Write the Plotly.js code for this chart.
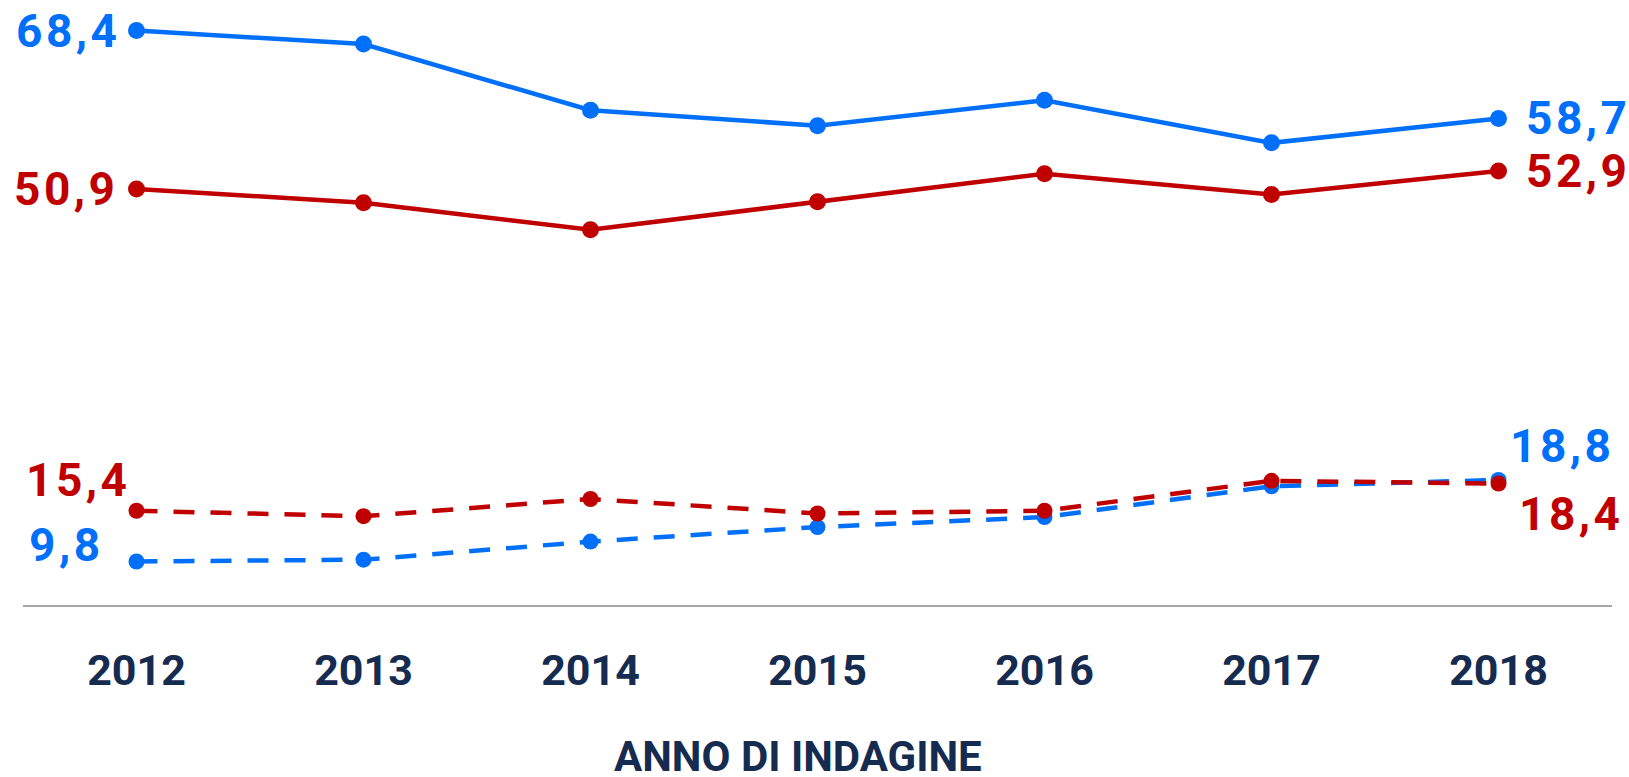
<!DOCTYPE html>
<html>
<head>
<meta charset="utf-8">
<script src="https://cdn.plot.ly/plotly-3.0.1.min.js"></script>
<style>
  html, body { margin: 0; padding: 0; background: #ffffff; }
  #chart { width: 1629px; height: 777px; }
</style>
</head>
<body>
<div id="chart"></div>
<script>
// ---- data ----
const years = [2012, 2013, 2014, 2015, 2016, 2017, 2018];
const tickLabels = ["2012", "2013", "2014", "2015", "2016", "2017", "2018"];
const blueSolid  = [68.4, 66.9, 59.6, 57.9, 60.7, 56.0, 58.7];
const redSolid   = [50.9, 49.4, 46.4, 49.5, 52.6, 50.3, 52.9];
const blueDashed = [9.8, 10.0, 12.0, 13.6, 14.7, 18.1, 18.8];
const redDashed  = [15.4, 14.8, 16.7, 15.1, 15.4, 18.7, 18.4];
const xTitle = "ANNO DI INDAGINE";

// ---- styles ----
const BLUE = "#0070FA";
const RED = "#C00000";
const NAVY = "#152B4F";
const FONT = "Roboto, 'Liberation Sans', sans-serif";

function fmt(v) { return v.toFixed(1).replace(".", ","); }

function solid(y, color) {
  return {
    x: years, y: y, type: "scatter", mode: "lines+markers",
    line: { color: color, width: 4.5 },
    marker: { color: color, size: 17 },
    hoverinfo: "skip", showlegend: false
  };
}
function dashed(y, color) {
  return {
    x: years, y: y, type: "scatter", mode: "lines+markers",
    line: { color: color, width: 4.5, dash: "21px,16px" },
    marker: { color: color, size: 16 },
    hoverinfo: "skip", showlegend: false
  };
}

const traces = [
  solid(blueSolid, BLUE),
  solid(redSolid, RED),
  dashed(blueDashed, BLUE),
  dashed(redDashed, RED)
];

const first = 0, last = years.length - 1;
function lab(series, idx, color, xanchor, xshift, yshift) {
  return {
    x: years[idx], y: series[idx], xref: "x", yref: "y",
    text: '<span style="letter-spacing:3.5px">' + fmt(series[idx]) + '</span>',
    showarrow: false,
    xanchor: xanchor, yanchor: "middle",
    xshift: xshift, yshift: yshift,
    font: { family: FONT, size: 46, color: color, weight: 700 }
  };
}

const annotations = [
  lab(blueSolid, first, BLUE, "right", -14, 0),
  lab(redSolid, first, RED, "right", -16, 0),
  lab(redDashed, first, RED, "right", -4, 31),
  lab(blueDashed, first, BLUE, "right", -31, 17),
  lab(blueSolid, last, BLUE, "left", 25, 0),
  lab(redSolid, last, RED, "left", 25, 0),
  lab(blueDashed, last, BLUE, "left", 9, 34),
  lab(redDashed, last, RED, "left", 18, -30),
  {
    x: 0.4877, y: 0, xref: "paper", yref: "paper",
    text: xTitle, showarrow: false,
    xanchor: "center", yanchor: "middle", yshift: -151,
    font: { family: FONT, size: 42, color: NAVY, weight: 700 }
  }
];

const layout = {
  width: 1629, height: 777,
  margin: { l: 23, r: 17, t: 16, b: 172, pad: 0 },
  paper_bgcolor: "#ffffff", plot_bgcolor: "#ffffff",
  showlegend: false,
  xaxis: {
    range: [2011.5, 2018.5],
    tickmode: "array", tickvals: years, ticktext: tickLabels,
    showgrid: false, zeroline: false,
    showline: true, linecolor: "#A6A6A6", linewidth: 2,
    ticks: "outside", ticklen: 26, tickcolor: "rgba(0,0,0,0)",
    tickfont: { family: FONT, size: 43, color: NAVY, weight: 700 },
    fixedrange: true
  },
  yaxis: {
    range: [5, 70], visible: false, showgrid: false, zeroline: false,
    fixedrange: true
  },
  annotations: annotations
};

Plotly.newPlot("chart", traces, layout, { displayModeBar: false, staticPlot: true });
</script>
</body>
</html>
